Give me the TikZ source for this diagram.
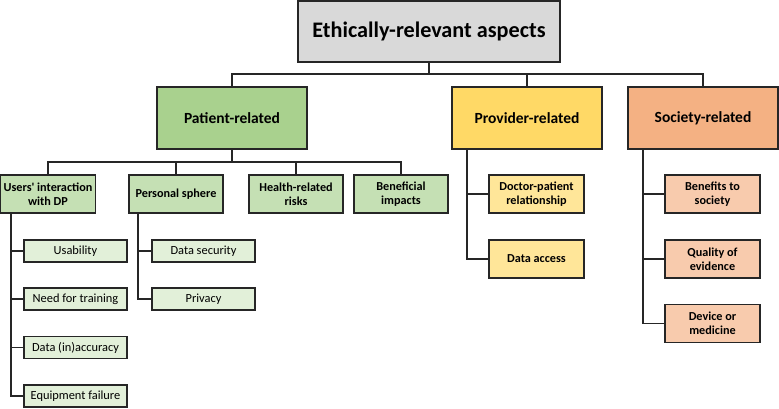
\documentclass[tikz,border=0pt]{standalone}
\usepackage{fontspec}
\setmainfont{Carlito}
\begin{document}
\begin{tikzpicture}[x=1pt,y=-1pt,
  bx/.style={draw=black!85,line width=1.4pt,align=center,inner sep=0pt,font=\bfseries\fontsize{12.2}{14}\selectfont},
  big/.style={bx,line width=1.8pt,font=\bfseries\fontsize{15.5}{17}\selectfont},
  leaf/.style={bx,line width=1.3pt,font=\fontsize{12.4}{14}\selectfont},
  ln/.style={draw=black!85,line width=1.3pt}]
\useasboundingbox (0,0) rectangle (779,408);
\definecolor{gtop}{HTML}{D9D9D9}
\definecolor{g1}{HTML}{A9D18E}
\definecolor{g2}{HTML}{C5E0B4}
\definecolor{g3}{HTML}{E2F0D9}
\definecolor{y1}{HTML}{FFD966}
\definecolor{y2}{HTML}{FFE699}
\definecolor{o1}{HTML}{F4B183}
\definecolor{o2}{HTML}{F8CBAD}
% top
\node[big,fill=gtop,minimum width=262pt,minimum height=61pt,font=\bfseries\fontsize{22.2}{24}\selectfont] (top) at (429,31.5) {Ethically-relevant aspects};
% level 1
\node[big,fill=g1,minimum width=150pt,minimum height=62pt] (pat) at (232,118) {Patient-related};
\node[big,fill=y1,minimum width=150pt,minimum height=62pt] (pro) at (527,118) {Provider-related};
\node[big,fill=o1,minimum width=150pt,minimum height=62pt] (soc) at (703,118) {Society-related};
% level 2 patient
\node[bx,fill=g2,minimum width=95pt,minimum height=38pt] (usr) at (48,194) {Users\textquotesingle{} interaction\\with DP};
\node[bx,fill=g2,minimum width=94pt,minimum height=38pt] (per) at (176,194) {Personal sphere};
\node[bx,fill=g2,minimum width=94pt,minimum height=38pt] (hea) at (296,194) {Health-related\\risks};
\node[bx,fill=g2,minimum width=94pt,minimum height=38pt] (ben) at (401,194) {Beneficial\\impacts};
% level 3 users
\node[leaf,fill=g3,minimum width=103pt,minimum height=22pt] (us1) at (75.5,251) {Usability};
\node[leaf,fill=g3,minimum width=103pt,minimum height=22pt] (us2) at (75.5,299) {Need for training};
\node[leaf,fill=g3,minimum width=103pt,minimum height=22pt] (us3) at (75.5,347.5) {Data (in)accuracy};
\node[leaf,fill=g3,minimum width=103pt,minimum height=22pt] (us4) at (75.5,396) {Equipment failure};
% level 3 personal
\node[leaf,fill=g3,minimum width=103pt,minimum height=22pt] (ps1) at (203.5,251) {Data security};
\node[leaf,fill=g3,minimum width=103pt,minimum height=22pt] (ps2) at (203.5,299) {Privacy};
% provider children
\node[bx,fill=y2,minimum width=95pt,minimum height=38pt] (pr1) at (536.5,194) {Doctor-patient\\relationship};
\node[bx,fill=y2,minimum width=95pt,minimum height=38pt] (pr2) at (536.5,259) {Data access};
% society children
\node[bx,fill=o2,minimum width=95pt,minimum height=38pt] (so1) at (712.5,194) {Benefits to\\society};
\node[bx,fill=o2,minimum width=95pt,minimum height=38pt] (so2) at (712.5,259) {Quality of\\evidence};
\node[bx,fill=o2,minimum width=95pt,minimum height=38pt] (so3) at (712.5,323.5) {Device or\\medicine};
% connectors top
\draw[ln] (top.south) -- (429,74) -| (pat.north);
\draw[ln] (429,74) -| (pro.north);
\draw[ln] (429,74) -| (soc.north);
% patient
\draw[ln] (pat.south) -- (232,162) -| (usr.north);
\draw[ln] (232,162) -| (per.north);
\draw[ln] (232,162) -| (hea.north);
\draw[ln] (232,162) -| (ben.north);
% users
\draw[ln] (usr.south -| 11,0) |- (us4.west);
\draw[ln] (11,251) -- (us1.west);
\draw[ln] (11,299) -- (us2.west);
\draw[ln] (11,347.5) -- (us3.west);
% personal
\draw[ln] (per.south -| 138,0) |- (ps2.west);
\draw[ln] (138,251) -- (ps1.west);
% provider
\draw[ln] (pro.south -| 467,0) |- (pr2.west);
\draw[ln] (467,194) -- (pr1.west);
% society
\draw[ln] (soc.south -| 643,0) |- (so3.west);
\draw[ln] (643,194) -- (so1.west);
\draw[ln] (643,259) -- (so2.west);
\end{tikzpicture}
\end{document}
